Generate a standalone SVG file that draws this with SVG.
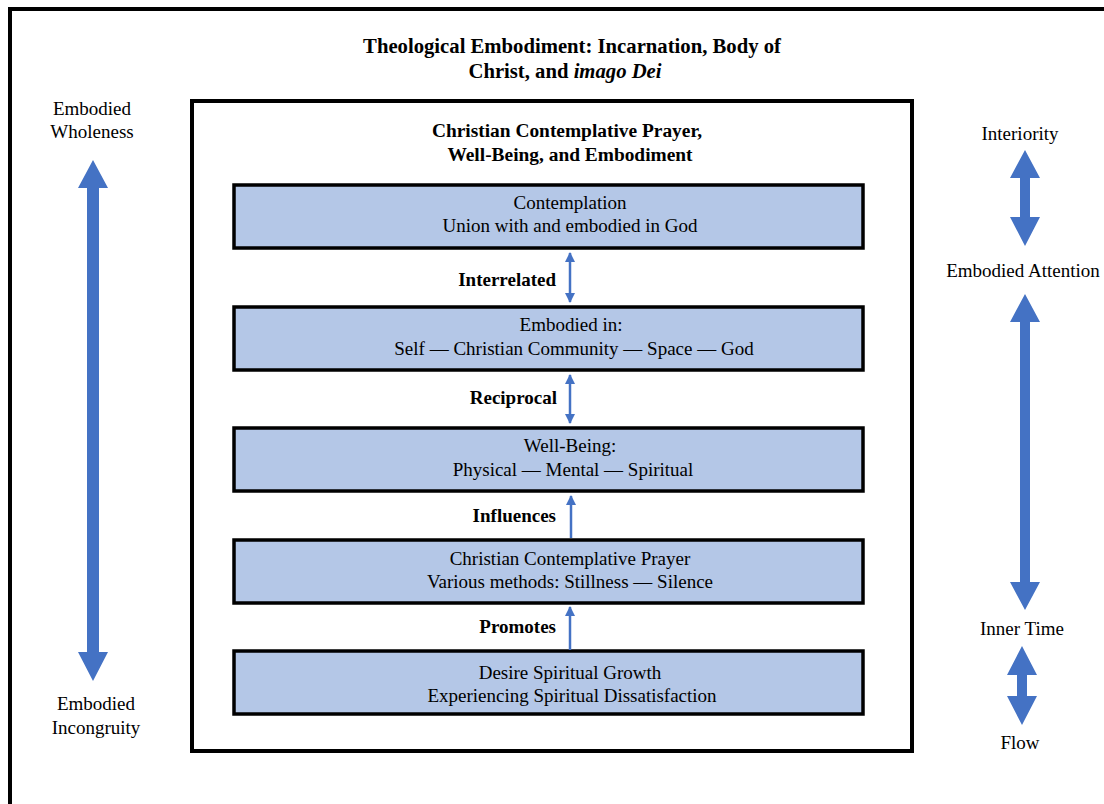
<svg xmlns="http://www.w3.org/2000/svg" width="1104" height="804" viewBox="0 0 1104 804">
<defs>
<style>
.box{fill:#B4C7E7;stroke:#000;stroke-width:3.5}
.big{fill:#4472C4}
.thin{stroke:#4472C4;stroke-width:2.5;fill:none}
</style>
<marker id="ah" viewBox="0 0 10 10" refX="9" refY="5" markerWidth="4" markerHeight="4" orient="auto-start-reverse" markerUnits="strokeWidth"><path d="M0,0 L10,5 L0,10 Z" fill="#4472C4"/></marker>
</defs>
<rect x="10" y="9" width="1110" height="820" fill="#fff" stroke="#000" stroke-width="4"/>
<g font-family="Liberation Serif, Times New Roman, serif" font-size="19" fill="#000" text-anchor="middle">
<g id="title" font-weight="bold" font-size="20.7">
<text x="572" y="53">Theological Embodiment: Incarnation, Body of</text>
<text x="565" y="78">Christ, and <tspan font-style="italic">imago Dei</tspan></text>
</g>
<rect x="192" y="101" width="720" height="650" fill="#fff" stroke="#000" stroke-width="4"/>
<g id="inner-title" font-weight="bold" font-size="19.4">
<text x="567" y="137">Christian Contemplative Prayer,</text>
<text x="570" y="161">Well-Being, and Embodiment</text>
</g>
<g id="n1"><rect class="box" x="234" y="185" width="629" height="63"/>
<text x="570" y="209">Contemplation</text><text x="570" y="232">Union with and embodied in God</text></g>
<g id="n2"><rect class="box" x="234" y="307" width="629" height="63"/>
<text x="571" y="331">Embodied in:</text><text x="574" y="355">Self — Christian Community — Space — God</text></g>
<g id="n3"><rect class="box" x="234" y="428" width="629" height="63"/>
<text x="570" y="452">Well-Being:</text><text x="573" y="476">Physical — Mental — Spiritual</text></g>
<g id="n4"><rect class="box" x="234" y="540" width="629" height="63"/>
<text x="570" y="565">Christian Contemplative Prayer</text><text x="570" y="588">Various methods: Stillness — Silence</text></g>
<g id="n5"><rect class="box" x="234" y="651" width="629" height="63"/>
<text x="570" y="679">Desire Spiritual Growth</text><text x="572" y="702">Experiencing Spiritual Dissatisfaction</text></g>
<g id="connectors">
<line class="thin" x1="570" y1="253" x2="570" y2="302" marker-start="url(#ah)" marker-end="url(#ah)"/>
<line class="thin" x1="570" y1="375" x2="570" y2="423" marker-start="url(#ah)" marker-end="url(#ah)"/>
<line class="thin" x1="571" y1="538" x2="571" y2="496" marker-end="url(#ah)"/>
<line class="thin" x1="570" y1="650" x2="570" y2="607" marker-end="url(#ah)"/>
<g font-weight="bold" text-anchor="end">
<text x="556" y="286">Interrelated</text>
<text x="557" y="404">Reciprocal</text>
<text x="556" y="522">Influences</text>
<text x="556" y="633">Promotes</text>
</g>
</g>
<g id="left-axis">
<text x="92" y="115">Embodied</text>
<text x="92" y="138">Wholeness</text>
<path class="big" d="M93,160 L108,188 L99,188 L99,652 L108,652 L93,681 L78,652 L87,652 L87,188 L78,188 Z"/>
<text x="96" y="710">Embodied</text>
<text x="96" y="734">Incongruity</text>
</g>
<g id="right-axis">
<text x="1020" y="140">Interiority</text>
<path class="big" d="M1025,150 L1040,178 L1030,178 L1030,217 L1040,217 L1025,246 L1010,217 L1020,217 L1020,178 L1010,178 Z"/>
<text x="1023" y="277">Embodied Attention</text>
<path class="big" d="M1025,294 L1040,322 L1030,322 L1030,582 L1040,582 L1025,610 L1010,582 L1020,582 L1020,322 L1010,322 Z"/>
<text x="1022" y="635">Inner Time</text>
<path class="big" d="M1022,646 L1037,675 L1027,675 L1027,696 L1037,696 L1022,725 L1007,696 L1017,696 L1017,675 L1007,675 Z"/>
<text x="1020" y="749">Flow</text>
</g>
</g>
</svg>
